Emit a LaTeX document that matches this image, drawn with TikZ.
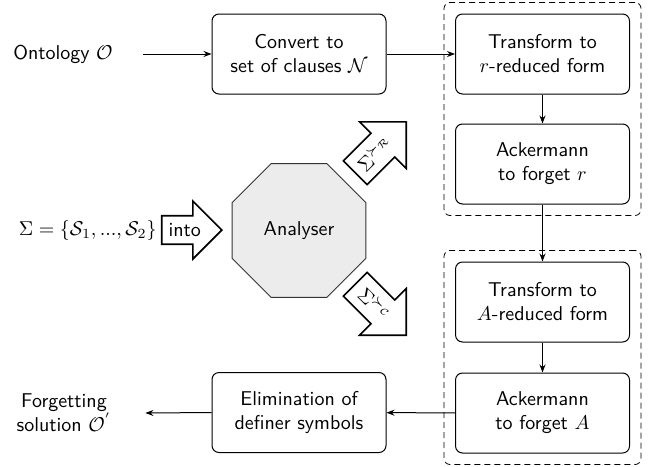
\documentclass[tikz,border=0pt]{standalone}
\usetikzlibrary{shapes.geometric,shapes.arrows,arrows.meta,fit}
\begin{document}
\begin{tikzpicture}[x=0.5pt,y=-0.5pt,
  every node/.style={font=\sffamily},
  box/.style={draw, rounded corners=3.5pt, minimum width=87pt, minimum height=40pt, align=center, inner sep=2pt, line width=0.5pt},
  grp/.style={draw, dashed, rounded corners=3pt, inner xsep=5.5pt, inner ysep=5.5pt, line width=0.4pt, dash pattern=on 3pt off 2pt},
  conn/.style={-{Stealth[length=4pt,width=3pt]}, line width=0.5pt},
  fat/.style={single arrow, draw, thick, fill=white, single arrow head extend=7pt, inner sep=3pt},
  lbl/.style={align=center, inner sep=0pt}
]
\useasboundingbox (0,0) rectangle (651,466);

\node[box] (conv) at (299,54) {Convert to\\set of clauses $\mathcal{N}$};
\node[box] (tr) at (542.5,54) {Transform to\\$r$-reduced form};
\node[box] (akr) at (542.5,164) {Ackermann\\to forget $r$};
\node[box] (ta) at (542.5,302) {Transform to\\$A$-reduced form};
\node[box] (aka) at (542.5,413) {Ackermann\\to forget $A$};
\node[box] (elim) at (299,412.5) {Elimination of\\definer symbols};

\node[grp, fit=(tr)(akr)] (g1) {};
\node[grp, fit=(ta)(aka)] (g2) {};

\node[lbl, minimum width=80pt] (ont) at (63,54) {Ontology $\mathcal{O}$};
\node[lbl, minimum width=81pt] (fs) at (64,413) {Forgetting\\solution $\mathcal{O}^{'}$};

\draw[conn] (ont.east) -- (conv.west);
\draw[conn] (conv.east) -- (tr.west);
\draw[conn] (tr) -- (akr);
\draw[conn] (akr) -- (ta);
\draw[conn] (ta) -- (aka);
\draw[conn] (aka) -- (elim);
\draw[conn] (elim.west) -- (fs.east);

\node[regular polygon, regular polygon sides=8, minimum size=72.5pt, inner sep=0pt, draw=black!80, fill=gray!15, line width=0.5pt] (an) at (299,230.5) {Analyser};

\node[fat, anchor=tip, minimum height=30pt, minimum width=29pt] (into) at (223,230) {into};
\node[anchor=east, inner sep=2pt] (sig) at (into.tail) {$\Sigma=\{\mathcal{S}_1,...,\mathcal{S}_2\}$};

\node[fat, rotate=45, anchor=tip, minimum height=36pt, minimum width=33pt] (ar) at (407,121) {$\Sigma^{\succ_{\mathcal{R}}}$};
\node[fat, rotate=-45, anchor=tip, minimum height=36pt, minimum width=33pt] (ac) at (407,336) {$\Sigma^{\succ_{\mathcal{C}}}$};
\end{tikzpicture}
\end{document}
